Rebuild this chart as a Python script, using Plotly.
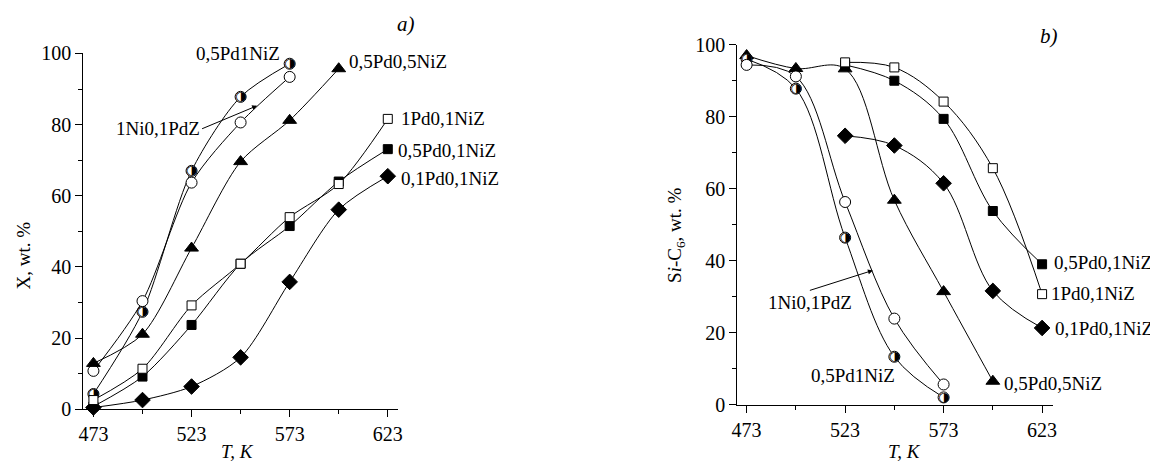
import plotly.graph_objects as go

W, H = 1158, 461

# ---------------- data ----------------
T_all = [473, 498, 523, 548, 573, 598, 623]

# panel a) conversion X, wt.%
a_05Pd1Ni_T = [473, 498, 523, 548, 573]
a_05Pd1Ni = [4.3, 27.4, 67.0, 87.8, 97.1]
a_1Ni01Pd_T = [473, 498, 523, 548, 573]
a_1Ni01Pd = [10.8, 30.4, 63.7, 80.6, 93.4]
a_05Pd05Ni_T = [473, 498, 523, 548, 573, 598]
a_05Pd05Ni = [12.9, 21.1, 45.3, 69.6, 81.2, 95.7]
a_1Pd01Ni = [2.6, 11.4, 29.2, 40.9, 54.0, 63.3, 81.6]
a_05Pd01Ni = [0.8, 9.2, 23.7, 40.9, 51.5, 64.0, 73.1]
a_01Pd01Ni = [0.5, 2.6, 6.4, 14.6, 35.8, 56.1, 65.5]

# panel b) Si-C6, wt.%
b_05Pd1Ni_T = [473, 498, 523, 548, 573]
b_05Pd1Ni = [96.0, 87.8, 46.4, 13.3, 2.0]
b_1Ni01Pd_T = [473, 498, 523, 548, 573]
b_1Ni01Pd = [94.4, 91.2, 56.3, 23.9, 5.6]
b_05Pd05Ni_T = [473, 498, 523, 548, 573, 598]
b_05Pd05Ni = [97.0, 93.4, 93.3, 56.8, 31.4, 6.5]
b_T5 = [523, 548, 573, 598, 623]
b_1Pd01Ni = [95.1, 93.7, 84.2, 65.7, 30.7]
b_05Pd01Ni = [94.4, 90.0, 79.4, 53.8, 39.0]
b_01Pd01Ni = [74.7, 72.0, 61.5, 31.6, 21.3]

x_ticks = [473, 523, 573, 623]
x_tick_labels = ["473", "523", "573", "623"]
y_ticks = [0, 20, 40, 60, 80, 100]

# ---------------- layout helpers ----------------
# calibrated mapping from target screenshot pixels to paper coordinates
OX, OY, SW, SH = 9.5, 17.5, 1151.5, 440.0

def px(x):
    return (x - OX) / SW

def py(y):
    return 1 - (y - OY) / SH

FONT = "Liberation Serif"
fig = go.Figure()

def add_series(xs, ys, kind, xa, ya, smooth):
    line = dict(color="black", width=1, shape="spline", smoothing=smooth)
    common = dict(x=xs, y=ys, xaxis=xa, yaxis=ya, showlegend=False,
                  cliponaxis=False, hoverinfo="skip")
    if kind == "half":
        fig.add_trace(go.Scatter(mode="lines", line=line, **common))
        fig.add_trace(go.Scatter(mode="markers",
                                 marker=dict(symbol="circle", size=11, color="white",
                                             line=dict(color="black", width=1)),
                                 **common))
        fig.add_trace(go.Scatter(mode="text", text=["\u25D1\uFE0E"] * len(xs),
                                 textposition="middle center",
                                 textfont=dict(family="DejaVu Sans", size=13, color="black"),
                                 **common))
        return
    sym = {"ocircle": ("circle", 11, "white"),
           "tri": ("triangle-up", 12, "black"),
           "osq": ("square", 9, "white"),
           "sq": ("square", 9, "black"),
           "dia": ("diamond", 12, "black")}[kind]
    fig.add_trace(go.Scatter(mode="lines+markers", line=line,
                             marker=dict(symbol=sym[0], size=sym[1], color=sym[2],
                                         line=dict(color="black", width=1)),
                             **common))

# panel a
SA = 0.8
add_series(a_05Pd1Ni_T, a_05Pd1Ni, "half", "x", "y", SA)
add_series(a_1Ni01Pd_T, a_1Ni01Pd, "ocircle", "x", "y", SA)
add_series(a_05Pd05Ni_T, a_05Pd05Ni, "tri", "x", "y", SA)
add_series(T_all, a_01Pd01Ni, "dia", "x", "y", SA)
add_series(T_all, a_05Pd01Ni, "sq", "x", "y", SA)
add_series(T_all, a_1Pd01Ni, "osq", "x", "y", SA)

# panel b
SB = 1.0
add_series(b_05Pd05Ni_T, b_05Pd05Ni, "tri", "x2", "y2", SB)
add_series(b_05Pd1Ni_T, b_05Pd1Ni, "half", "x2", "y2", SB)
add_series(b_1Ni01Pd_T, b_1Ni01Pd, "ocircle", "x2", "y2", SB)
add_series(b_T5, b_01Pd01Ni, "dia", "x2", "y2", SB)
add_series(b_T5, b_05Pd01Ni, "sq", "x2", "y2", SB)
add_series(b_T5, b_1Pd01Ni, "osq", "x2", "y2", SB)

axis_common = dict(showgrid=False, zeroline=False, showline=True, linecolor="black",
                   linewidth=1, ticks="outside", tickcolor="black", ticklen=7,
                   tickwidth=1, tickfont=dict(family=FONT, size=20, color="black"))

minor_x = dict(tickvals=[498, 548, 598], ticks="outside", ticklen=4,
               tickcolor="black", tickwidth=1, showgrid=False)
ya = dict(axis_common, tickvals=y_ticks,
          minor=dict(tickvals=[10, 30, 50, 70, 90], ticks="outside", ticklen=4,
                     tickcolor="black", tickwidth=1, showgrid=False))

fig.update_layout(
    width=W, height=H, margin=dict(l=0, r=0, t=0, b=0),
    paper_bgcolor="white", plot_bgcolor="white",
    xaxis=dict(axis_common, tickvals=x_ticks, ticktext=x_tick_labels, minor=minor_x,
               domain=[px(79), px(395)], range=[467.8, 628.2], anchor="y"),
    yaxis=dict(ya, domain=[py(408.7), py(52)], range=[0, 100], anchor="x"),
    xaxis2=dict(axis_common, tickvals=x_ticks, ticktext=x_tick_labels, minor=minor_x,
                domain=[px(735.7), px(1052.3)], range=[468.3, 628.4], anchor="y2"),
    yaxis2=dict(ya, domain=[py(404), py(43.3)], range=[0, 100], anchor="x2"),
)

LF = dict(family=FONT, size=19, color="black")
ann = []

def lab(text, x, y, xanchor="left", font=LF):
    ann.append(dict(text=text, x=px(x), y=py(y), xref="paper", yref="paper",
                    xanchor=xanchor, yanchor="middle", showarrow=False, font=font))

def arrow_lab(text, head, tail, xr, yr, xanchor, yanchor):
    # head in data coords of the panel, tail offset in pixels
    ann.append(dict(text=text, x=head[0], y=head[1], xref=xr, yref=yr,
                    ax=tail[0], ay=tail[1], xanchor=xanchor, yanchor=yanchor,
                    showarrow=True, arrowhead=2, arrowsize=1, arrowwidth=1,
                    arrowcolor="black", font=LF))

# panel a labels (target pixel positions)
lab("0,5Pd1NiZ", 279, 52, "right")
lab("0,5Pd0,5NiZ", 344, 60)
lab("1Pd0,1NiZ", 396, 117)
lab("0,5Pd0,1NiZ", 393, 149)
lab("0,1Pd0,1NiZ", 396, 177)
arrow_lab("1Ni0,1PdZ", (556.4, 85.3), (-55, 23), "x", "y", "right", "middle")

# panel b labels
lab("0,5Pd0,1NiZ", 1052, 262)
lab("1Pd0,1NiZ", 1049, 293)
lab("0,1Pd0,1NiZ", 1053, 328)
lab("0,5Pd0,5NiZ", 1001, 383)
lab("0,5Pd1NiZ", 808, 375)
arrow_lab("1Ni0,1PdZ", (537.1, 37.3), (-63, 20), "x2", "y2", "center", "top")

# panel letters
IF = dict(family=FONT, size=21, color="black")
lab("<i>a)</i>", 403.5, 23, "center", IF)
lab("<i>b)</i>", 1049, 35, "center", IF)

# axis titles
TF = dict(family=FONT, size=19, color="black")
lab("<i>T, K</i>", 234, 451, "center", TF)
lab("<i>T, K</i>", 903, 451, "center", TF)
ann.append(dict(text="X, wt. %", x=px(20), y=py(254), xref="paper", yref="paper",
                textangle=-90, showarrow=False, font=TF, xanchor="center", yanchor="middle"))
ann.append(dict(text="S<i>i</i>-C<sub>6</sub>, wt. %", x=px(674), y=py(234), xref="paper",
                yref="paper", textangle=-90, showarrow=False, font=TF,
                xanchor="center", yanchor="middle"))

fig.update_layout(annotations=ann)
fig.write_html("out.html")
